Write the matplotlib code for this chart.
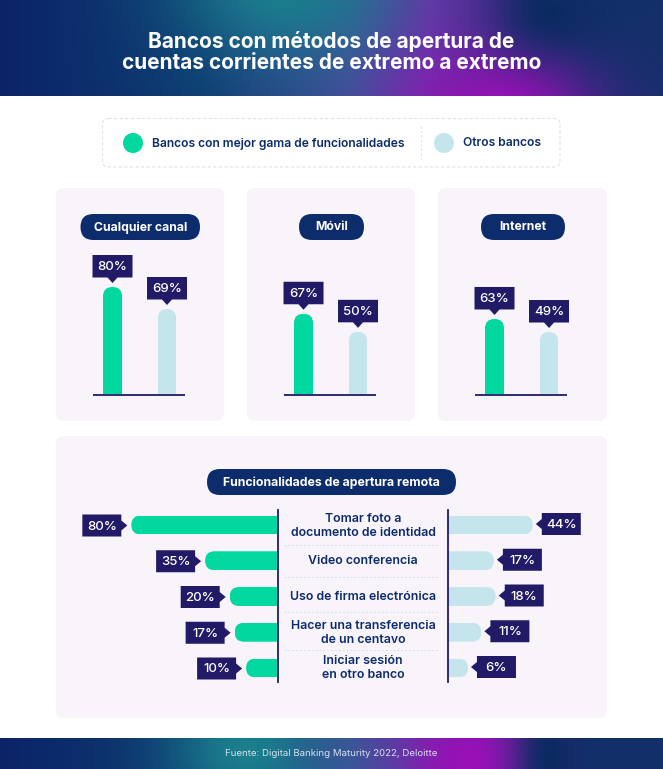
import numpy as np
import matplotlib
matplotlib.use("Agg")
import matplotlib.pyplot as plt
from matplotlib.colors import to_rgb
from matplotlib.patches import FancyBboxPatch, Polygon, Circle

plt.rcParams["font.family"] = ["Inter", "DejaVu Sans"]

W, H = 663, 769
NAVY = "#0d2c6c"
INK = "#211a66"
GREEN = "#00d8a0"
LIGHT = "#c5e5ec"
PANEL = "#f8f4fa"

# data
legend_labels = ["Bancos con mejor gama de funcionalidades", "Otros bancos"]
channels = ["Cualquier canal", "Móvil", "Internet"]
best_banks = [80, 67, 63]
other_banks = [69, 50, 49]

features = [
    "Tomar foto a\ndocumento de identidad",
    "Video conferencia",
    "Uso de firma electrónica",
    "Hacer una transferencia\nde un centavo",
    "Iniciar sesión\nen otro banco",
]
features_best = [80, 35, 20, 17, 10]
features_other = [44, 17, 18, 11, 6]


def gradient(h, teal, purple, navy):
    # horizontal base with three soft colour blobs on top
    xx, yy = np.meshgrid(np.arange(W), np.arange(h))
    stops = [(0, "#0b2468"), (200, "#0e3c72"), (350, "#40509a"), (430, "#6a30a8"),
             (530, "#32297c"), (590, "#12306a"), (663, "#14306a")]
    cols = np.array([to_rgb(s[1]) for s in stops])
    img = np.stack([np.interp(xx, [s[0] for s in stops], cols[:, i]) for i in range(3)], axis=2)
    for (cx, cy, sx, sy), col in [(teal, "#1a7f8e"), (purple, "#9a10b8"), (navy, "#0c2b62")]:
        w = np.exp(-((xx - cx) / sx) ** 2 - ((yy - cy) / sy) ** 2)[:, :, None]
        img = img * (1 - w) + np.array(to_rgb(col)) * w
    return img


fig = plt.figure(figsize=(W / 100, H / 100), dpi=100)
bg = fig.add_axes([0, 0, 1, 1])
bg.axis("off")


def data_axes(x0, y0, x1, y1):
    ax = fig.add_axes([x0 / W, 1 - y1 / H, (x1 - x0) / W, (y1 - y0) / H])
    ax.axis("off")
    return ax


def to_px(ax, patch):
    ext = patch.get_window_extent()
    (a, b), (c, d) = bg.transData.inverted().transform([(ext.x0, ext.y0), (ext.x1, ext.y1)])
    return min(a, c), min(b, d), max(a, c), max(b, d)


def box(x0, y0, x1, y1, r, **kw):
    p = FancyBboxPatch((x0, y0), x1 - x0, y1 - y0,
                       boxstyle=f"round,pad=0,rounding_size={r}", **kw)
    bg.add_patch(p)
    return p


# header and footer gradients
bg.imshow(gradient(96, (285, -15, 105, 75), (500, 115, 95, 60), (550, 12, 50, 40)),
          extent=(0, W, 96, 0), aspect="auto", zorder=0)
bg.imshow(gradient(31, (245, 10, 75, 60), (468, 22, 52, 60), (550, 18, 28, 60)),
          extent=(0, W, 769, 738), aspect="auto", zorder=0)
bg.set_xlim(0, W)
bg.set_ylim(H, 0)

bg.text(331.5, 41, "Bancos con métodos de apertura de", color="white", fontsize=15,
        fontweight="bold", ha="center", va="center")
bg.text(331.5, 63, "cuentas corrientes de extremo a extremo", color="white", fontsize=15,
        fontweight="bold", ha="center", va="center")
bg.text(331.5, 753.5, "Fuente: Digital Banking Maturity 2022, Deloitte", color="#d6dfea",
        fontsize=6.95, ha="center", va="center")

# legend
box(102.5, 118.5, 560, 167, 6, fc="white", ec="#e2e2e8", lw=0.8, ls=(0, (3, 2)))
bg.plot([421, 421], [126, 160], color="#e2e2e8", lw=0.8, ls=(0, (2, 2)))
bg.add_patch(Circle((133, 143), 10, fc=GREEN, ec="none"))
bg.add_patch(Circle((444, 143), 10, fc=LIGHT, ec="none"))
bg.text(152, 143.5, legend_labels[0], color=NAVY, fontsize=8.68, fontweight="semibold", va="center")
bg.text(463, 143.5, legend_labels[1], color=NAVY, fontsize=8.68, fontweight="semibold", va="center")

# panels
panel_x = [(56, 224), (247, 415), (438, 607)]
pills = [(80.5, 200), (299, 364), (481, 565)]
for (x0, x1) in panel_x:
    box(x0, 188, x1, 421, 8, fc=PANEL, ec="none")
box(56, 436, 607, 718, 8, fc=PANEL, ec="none")
for (x0, x1), name in zip(pills, channels):
    box(x0, 214, x1, 240, 13, fc=NAVY, ec="none")
    bg.text((x0 + x1) / 2, 227.5, name, color="white", fontsize=8.8, fontweight="bold",
            ha="center", va="center")
box(207, 469, 456, 495, 13, fc=NAVY, ec="none")
bg.text(331.5, 482.5, "Funcionalidades de apertura remota", color="white", fontsize=8.85,
        fontweight="bold", ha="center", va="center")


def callout_down(cx, tip_y, label):
    bg.add_patch(Polygon([(cx - 20, tip_y - 28), (cx + 20, tip_y - 28), (cx + 20, tip_y - 5.5),
                          (cx + 5, tip_y - 5.5), (cx, tip_y), (cx - 5, tip_y - 5.5),
                          (cx - 20, tip_y - 5.5)], fc=INK, ec="none", zorder=3))
    bg.text(cx, tip_y - 16, label, color="white", fontsize=9.5, fontweight="medium",
            ha="center", va="center", zorder=4)


def callout_side(tip_x, cy, side, label):
    # side = -1 box sits left of the tip, +1 right of it
    s = side
    bg.add_patch(Polygon([(tip_x, cy), (tip_x + s * 6, cy - 5), (tip_x + s * 6, cy - 11),
                          (tip_x + s * 45, cy - 11), (tip_x + s * 45, cy + 11),
                          (tip_x + s * 6, cy + 11), (tip_x + s * 6, cy + 5)],
                         fc=INK, ec="none", zorder=3))
    bg.text(tip_x + s * 25.5, cy + 1, label, color="white", fontsize=9.5, fontweight="medium",
            ha="center", va="center", zorder=4)


# vertical bars, one small axes per panel
panel_shift = [0, 191, 382]
panel_ylim = [(26.5, 98.5), (-8.5, 127), (-17.5, 137)]
for i, shift in enumerate(panel_shift):
    ax = data_axes(93 + shift, 250, 185 + shift, 394)
    ax.set_xlim(-0.358, 1.33)
    ax.set_ylim(*panel_ylim[i])
    base = panel_ylim[i][0]
    bars = ax.bar([0, 1], [best_banks[i] - base, other_banks[i] - base], bottom=base,
                  width=[0.35, 0.33], color=[GREEN, LIGHT])
    labels = [best_banks[i], other_banks[i]]
    for b, col, val in zip(bars, [GREEN, LIGHT], labels):
        x0, y0, x1, y1 = to_px(ax, b)
        p = box(x0, y0, x1, y1 + 20, (x1 - x0) / 2, fc=col, ec="none", zorder=2)
        p.set_clip_path(b)
        b.set_visible(False)
        callout_down((x0 + x1) / 2, y0 - 4, f"{val}%")
    bg.plot([93 + shift, 185 + shift], [394.5, 394.5], color=INK, lw=1.3, zorder=3,
            solid_capstyle="butt")

# horizontal bars, mirrored around the centre column
rows = np.arange(len(features))
row_px = 35.75 # row spacing
left = data_axes(60, 525 - row_px / 2, 278, 525 + row_px * 4.5)
left.set_ylim(4.5, -0.5)
left.set_xlim(123.5, -9.45)
b_left = left.barh(rows, np.array(features_best) + 9.45, left=-9.45, height=0.53, color=GREEN)
right = data_axes(448, 525 - row_px / 2, 578, 525 + row_px * 4.5)
right.set_ylim(4.5, -0.5)
right.set_xscale("function", functions=(np.sqrt, np.square))
right.set_xlim(1.35, 91.2)
b_right = right.barh(rows, np.array(features_other) - 1.35, left=1.35, height=0.53, color=LIGHT)

for b, val in zip(b_left, features_best):
    x0, y0, x1, y1 = to_px(left, b)
    p = box(x0, y0, x1 + 20, y1, (y1 - y0) / 2, fc=GREEN, ec="none", zorder=2)
    p.set_clip_path(b)
    b.set_visible(False)
    callout_side(x0 - 4, (y0 + y1) / 2 + 0.5, -1, f"{val}%")
for b, val in zip(b_right, features_other):
    x0, y0, x1, y1 = to_px(right, b)
    p = box(x0 - 20, y0, x1, y1, (y1 - y0) / 2, fc=LIGHT, ec="none", zorder=2)
    p.set_clip_path(b)
    b.set_visible(False)
    callout_side(x1 + 3, (y0 + y1) / 2 - 1, 1, f"{val}%")

bg.plot([278, 278], [510, 682], color=INK, lw=1.3, zorder=3)
bg.plot([448, 448], [510, 682], color=INK, lw=1.3, zorder=3)
for y in [545, 577, 612, 650]:
    bg.plot([284, 439], [y, y], color="#dddde6", lw=0.7, ls=(0, (2, 2)), zorder=1)
feature_y = [526, 561, 597, 633, 668]
for y, name in zip(feature_y, features):
    bg.text(363, y, name, color=NAVY, fontsize=8.9, fontweight="semibold", ha="center",
            va="center", linespacing=1.12)

fig.savefig("out.png", dpi=100)
